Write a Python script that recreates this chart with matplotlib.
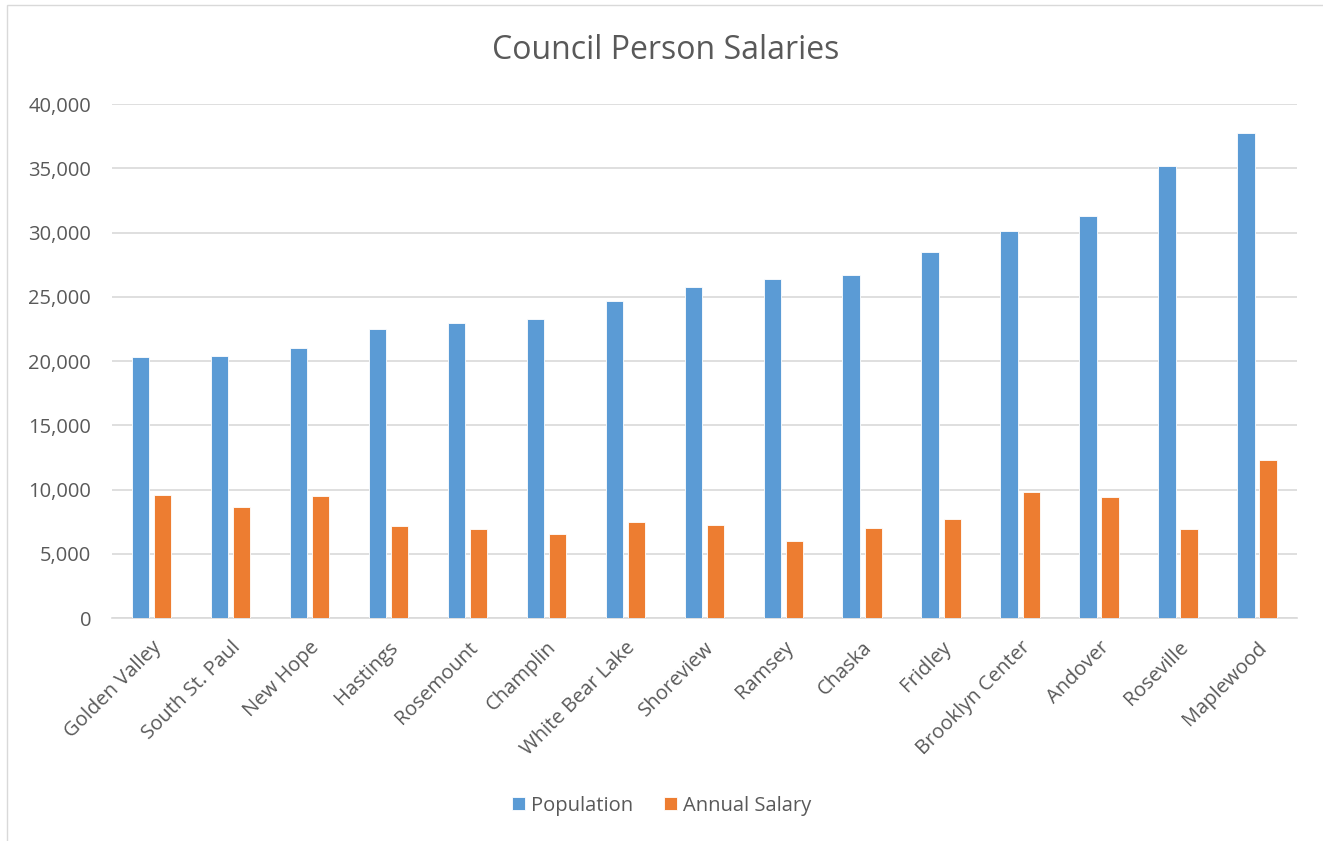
import numpy as np
import matplotlib.pyplot as plt
from matplotlib.patches import Rectangle
from matplotlib.ticker import FuncFormatter

cities = ['Golden Valley', 'South St. Paul', 'New Hope', 'Hastings', 'Rosemount',
          'Champlin', 'White Bear Lake', 'Shoreview', 'Ramsey', 'Chaska',
          'Fridley', 'Brooklyn Center', 'Andover', 'Roseville', 'Maplewood']
population = [20300, 20400, 21000, 22500, 23000, 23300, 24700, 25800, 26400, 26700,
              28500, 30100, 31250, 35200, 37750]
salary = [9550, 8650, 9500, 7150, 6950, 6550, 7450, 7250, 6000, 7050,
          7700, 9800, 9450, 6950, 12300]

plt.rcParams['font.family'] = ['Open Sans', 'DejaVu Sans']
txt = '#595959'

fig = plt.figure(figsize=(13.23, 8.41), dpi=100)
ax = fig.add_axes([0.0847, 0.265, 0.8953, 0.6113])

x = np.arange(len(cities))
w = 0.22
ax.bar(x - w/2 - 0.03, population, w, color='#5B9BD5', edgecolor='white', linewidth=0.6, label='Population', zorder=3)
ax.bar(x + w/2 + 0.03, salary, w, color='#ED7D31', edgecolor='white', linewidth=0.6, label='Annual Salary', zorder=3)

ax.set_xlim(-0.5, len(cities) - 0.5)
ax.set_ylim(0, 40000)
ax.set_yticks(np.arange(0, 40001, 5000))
ax.yaxis.set_major_formatter(FuncFormatter(lambda v, p: f'{int(v):,}'))
ax.grid(axis='y', color='#D9D9D9', linewidth=1.2, zorder=0)
for s in ['top', 'right', 'left']:
    ax.spines[s].set_visible(False)
ax.spines['bottom'].set_color('#D9D9D9')
ax.spines['bottom'].set_linewidth(1.2)
ax.tick_params(axis='both', length=0, colors=txt, labelsize=14.5)
ax.tick_params(axis='y', pad=15)
ax.tick_params(axis='x', pad=14)
ax.set_xticks(x)
ax.set_xticklabels(cities, rotation=45, ha='right', rotation_mode='anchor')

fig.text(0.503, 0.94, 'Council Person Salaries', ha='center', va='center', fontsize=23, color=txt)

leg = fig.legend(loc='center', bbox_to_anchor=(0.5, 0.042), ncol=2, frameon=False,
                 fontsize=14.5, handlelength=0.65, handleheight=0.65, columnspacing=1.5, handletextpad=0.3)
for t in leg.get_texts():
    t.set_color(txt)

fig.patches.append(Rectangle((0.005, -0.01), 1.1, 1.004, transform=fig.transFigure,
                             fill=False, edgecolor='#D9D9D9', linewidth=1))

fig.savefig('out.png', dpi=100)
